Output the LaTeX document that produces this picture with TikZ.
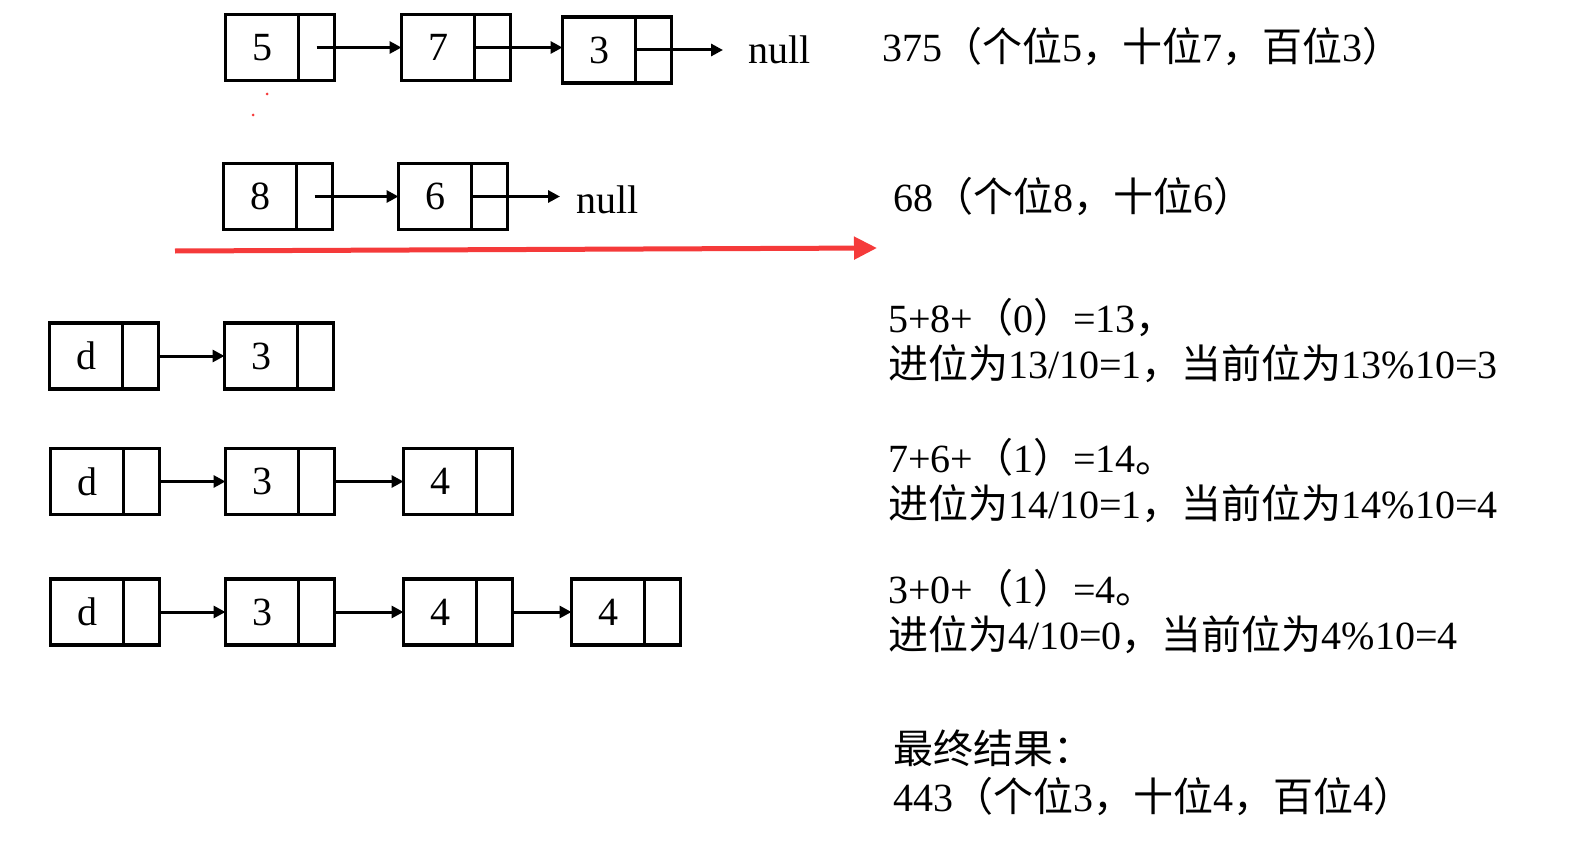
\documentclass[tikz,border=0pt]{standalone}
\usepackage{fontspec}
\setmainfont{Liberation Serif}
\newfontfamily\cjk{Noto Sans CJK SC}
\newcommand{\zhtext}[1]{{\cjk #1}}
\usetikzlibrary{arrows.meta,positioning}
\definecolor{markred}{RGB}{245,58,58}

\begin{document}
\begin{tikzpicture}[
            x=1pt, y=-1pt, % one unit per pixel, y going down
            val/.style={draw, rectangle, line width=3.2pt, outer sep=0pt,
            inner sep=0pt, minimum width=73pt, minimum height=66pt,
            font=\fontsize{40}{40}\selectfont},
            ptr/.style={draw, rectangle, line width=3.2pt, outer sep=0pt,
            inner sep=0pt, minimum width=36pt, minimum height=66pt},
            nxt/.style={-{Triangle[length=12pt,width=12pt]}, line width=3pt},
            txt/.style={anchor=base west, inner sep=0pt,
            font=\fontsize{40}{46}\selectfont},
            nil/.style={anchor=west, inner sep=0pt,
            font=\fontsize{40}{46}\selectfont}
            ]
            \useasboundingbox (0,0) rectangle (1578,840);

            % 375
            \node[val] (a5) at (262,47.5) {5};
            \node[ptr, right=0pt of a5] (a5p) {};
            \node[val] (a7) at (438,47.5) {7};
            \node[ptr, right=0pt of a7] (a7p) {};
            \node[val] (a3) at (599,50) {3};
            \node[ptr, right=0pt of a3] (a3p) {};
            \node[nil] (null1) at (748,50) {null};

            \draw[nxt] (a5p.center) -- (a7.west);
            \draw[nxt] (a7.east) -- (a7.east -| a3.west);
            \draw[nxt, shorten >=25pt] (a3.east) -- (a3.east -| null1.west);

            % stray red dots
            \fill[markred] (267,94) circle (1.5pt);
            \fill[markred] (253,115) circle (1.5pt);

            % 68
            \node[val] (b8) at (260,196.5) {8};
            \node[ptr, right=0pt of b8] (b8p) {};
            \node[val] (b6) at (435,196.5) {6};
            \node[ptr, right=0pt of b6] (b6p) {};
            \node[nil] (null2) at (576,200) {null};

            \draw[nxt] (b8p.center) -- (b6.west);
            \draw[nxt, shorten >=16pt] (b6.east) -- (b6.east -| null2.west);

            % red arrow
            \coordinate (rs) at (175,251);
            \coordinate (re) at (877,248);
            \draw[markred, line width=5pt,
            -{Triangle[length=23pt,width=22pt]}] (rs) -- (re);

            % step 1
            \node[val] (c1) at (86,356) {d};
            \node[ptr, right=0pt of c1] (c1p) {};
            \node[val] (c2) at (261,356) {3};
            \node[ptr, right=0pt of c2] (c2p) {};
            \draw[nxt] (c1p.east) -- (c2.west);

            % step 2
            \node[val] (d1) at (87,481.5) {d};
            \node[ptr, right=0pt of d1] (d1p) {};
            \node[val] (d2) at (262,481.5) {3};
            \node[ptr, right=0pt of d2] (d2p) {};
            \node[val] (d3) at (440,481.5) {4};
            \node[ptr, right=0pt of d3] (d3p) {};
            \draw[nxt] (d1p.east) -- (d2.west);
            \draw[nxt] (d2p.east) -- (d3.west);

            % step 3
            \node[val] (e1) at (87,612) {d};
            \node[ptr, right=0pt of e1] (e1p) {};
            \node[val] (e2) at (262,612) {3};
            \node[ptr, right=0pt of e2] (e2p) {};
            \node[val] (e3) at (440,612) {4};
            \node[ptr, right=0pt of e3] (e3p) {};
            \node[val] (e4) at (608,612) {4};
            \node[ptr, right=0pt of e4] (e4p) {};
            \draw[nxt] (e1p.east) -- (e2.west);
            \draw[nxt] (e2p.east) -- (e3.west);
            \draw[nxt] (e3p.east) -- (e4.west);

            % notes on the right
            \node[txt] (t1) at (882,62) {375\zhtext{（个位}5\zhtext{，十位}7\zhtext{，百位}3\zhtext{）}};
            \node[txt] (t2) at (893,211) {68\zhtext{（个位}8\zhtext{，十位}6\zhtext{）}};

            \node[txt] (s1a) at (888,332) {5+8+\zhtext{（}0\zhtext{）}=13\zhtext{，}};
            \node[txt] (s1b) at (888,378) {\zhtext{进位为}13/10=1\zhtext{，当前位为}13\%10=3};
            \node[txt] (s2a) at (888,472) {7+6+\zhtext{（}1\zhtext{）}=14\zhtext{。}};
            \node[txt] (s2b) at (888,518) {\zhtext{进位为}14/10=1\zhtext{，当前位为}14\%10=4};
            \node[txt] (s3a) at (888,603) {3+0+\zhtext{（}1\zhtext{）}=4\zhtext{。}};
            \node[txt] (s3b) at (888,649) {\zhtext{进位为}4/10=0\zhtext{，当前位为}4\%10=4};

            \node[txt] (r1) at (893,763) {\zhtext{最终结果：}};
            \node[txt] (r2) at (893,811) {443\zhtext{（个位}3\zhtext{，十位}4\zhtext{，百位}4\zhtext{）}};
        \end{tikzpicture}
\end{document}
